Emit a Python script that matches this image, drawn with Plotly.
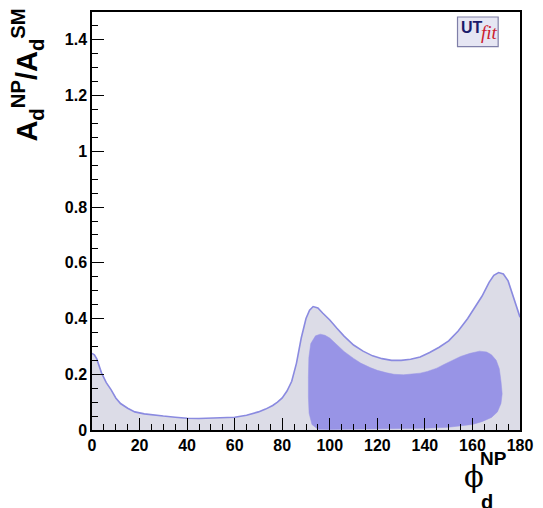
import plotly.graph_objects as go

# Outer (95%) region: upper boundary of A_d^NP/A_d^SM vs phi_d^NP
outer_phi = [0, 1, 2, 4, 6, 8, 10, 12, 15, 18, 22, 26, 30, 35, 40, 45, 50, 55, 60,
             65, 70, 73, 76, 78, 80, 82, 84, 86, 88, 90, 91.5, 93, 95, 97, 100, 103,
             106, 110, 114, 118, 122, 126, 130, 134, 138, 142, 146, 150, 154, 158,
             161, 164, 167, 169, 171, 173, 175, 177, 179, 180]
outer_ratio = [0.275, 0.27, 0.255, 0.205, 0.17, 0.145, 0.115, 0.095, 0.078, 0.065,
               0.058, 0.053, 0.05, 0.046, 0.042, 0.041, 0.043, 0.044, 0.046, 0.053,
               0.065, 0.075, 0.088, 0.1, 0.115, 0.14, 0.175, 0.24, 0.33, 0.40, 0.43,
               0.443, 0.438, 0.42, 0.395, 0.365, 0.337, 0.305, 0.283, 0.266, 0.256,
               0.25, 0.25, 0.254, 0.262, 0.278, 0.297, 0.32, 0.355, 0.40, 0.44, 0.48,
               0.53, 0.555, 0.565, 0.56, 0.535, 0.485, 0.43, 0.405]

# Inner (68%) region: closed contour
inner_phi = [95, 92.5, 91.3, 91, 91, 91.2, 92, 94, 96, 98, 100, 103, 106, 110, 113,
             117, 120, 124, 127, 131, 134, 138, 141, 145, 148, 152, 155, 159, 163,
             166, 168, 170, 171.3, 172, 172.5, 172, 170.5, 168, 164, 160, 150, 140,
             120, 100, 95]
inner_ratio = [0.003, 0.02, 0.06, 0.12, 0.19, 0.26, 0.31, 0.338, 0.344, 0.34, 0.33,
               0.305, 0.282, 0.257, 0.24, 0.224, 0.214, 0.205, 0.2, 0.198, 0.2,
               0.204, 0.21, 0.222, 0.235, 0.25, 0.264, 0.275, 0.283, 0.28, 0.27,
               0.25, 0.22, 0.175, 0.13, 0.095, 0.065, 0.045, 0.03, 0.02, 0.01,
               0.006, 0.003, 0.002, 0.003]

x_ticks = [0, 20, 40, 60, 80, 100, 120, 140, 160, 180]
y_ticks = [0, 0.2, 0.4, 0.6, 0.8, 1, 1.2, 1.4]
y_tick_text = ["0", "0.2", "0.4", "0.6", "0.8", "1", "1.2", "1.4"]

OUTER_FILL = "#dcdce7"
OUTER_LINE = "#8a8ae0"
INNER_FILL = "#9894e6"

fig = go.Figure()
fig.add_trace(go.Scatter(x=outer_phi, y=outer_ratio, mode="lines", fill="tozeroy",
                         fillcolor=OUTER_FILL, line=dict(color=OUTER_LINE, width=1.6),
                         hoverinfo="skip", showlegend=False))
fig.add_trace(go.Scatter(x=inner_phi, y=inner_ratio, mode="lines", fill="toself",
                         fillcolor=INNER_FILL, line=dict(color=INNER_FILL, width=0.5),
                         hoverinfo="skip", showlegend=False))

tickfont = dict(family="Liberation Sans, Arial, sans-serif", size=16, color="black",
                weight="bold")
fig.update_xaxes(range=[0, 180], tickvals=x_ticks, ticks="inside", ticklen=12,
                 tickwidth=1.2, tickcolor="black", showline=True, linecolor="black",
                 linewidth=1.5, mirror=True, showgrid=False, zeroline=False,
                 tickfont=tickfont,
                 minor=dict(dtick=5, ticks="inside", ticklen=6, tickwidth=1.2,
                            tickcolor="black", showgrid=False))
fig.update_yaxes(range=[0, 1.5], tickvals=y_ticks, ticktext=y_tick_text,
                 ticks="inside", ticklen=12, tickwidth=1.2, tickcolor="black",
                 showline=True, linecolor="black", linewidth=1.5, mirror=True,
                 showgrid=False, zeroline=False, tickfont=tickfont,
                 minor=dict(dtick=0.05, ticks="inside", ticklen=6, tickwidth=1.2,
                            tickcolor="black", showgrid=False))

annots = [
    dict(text="<b>A<sub>d</sub><sup>NP</sup>/A<sub>d</sub><sup>SM</sup></b>",
         xref="paper", yref="paper", x=-0.152, y=1.014, xanchor="center",
         yanchor="top", textangle=-90, showarrow=False,
         font=dict(family="Liberation Sans, Arial, sans-serif", size=29, color="black")),
    dict(text="ϕ", xref="paper", yref="paper", x=0.893, y=-0.112,
         xanchor="center", yanchor="middle", showarrow=False,
         font=dict(family="DejaVu Serif, serif", size=29, color="black")),
    dict(text="<b>NP</b>", xref="paper", yref="paper", x=0.937, y=-0.067,
         xanchor="center", yanchor="middle", showarrow=False,
         font=dict(family="Liberation Sans, Arial, sans-serif", size=19, color="black")),
    dict(text="<b>d</b>", xref="paper", yref="paper", x=0.924, y=-0.172,
         xanchor="center", yanchor="middle", showarrow=False,
         font=dict(family="Liberation Sans, Arial, sans-serif", size=20, color="black")),
    dict(text="<b>UT</b>", xref="paper", yref="paper", x=0.887, y=0.963,
         xanchor="center", yanchor="middle", showarrow=False,
         font=dict(family="Liberation Sans, Arial, sans-serif", size=16, color="#1b1b6b")),
    dict(text="<i>fit</i>", xref="paper", yref="paper", x=0.929, y=0.951,
         xanchor="center", yanchor="middle", showarrow=False,
         font=dict(family="Liberation Serif, Times New Roman, serif", size=19,
                   color="#cc2030")),
]

fig.update_layout(
    width=543, height=508,
    margin=dict(l=92, r=19, t=10, b=78),
    paper_bgcolor="white", plot_bgcolor="white",
    annotations=annots,
    shapes=[dict(type="rect", xref="paper", yref="paper", x0=0.854, x1=0.949,
                 y0=0.917, y1=0.988, fillcolor="#e6e6f3",
                 line=dict(color="#7f7fa8", width=1.2), layer="below")],
)

fig.write_html("out.html")
